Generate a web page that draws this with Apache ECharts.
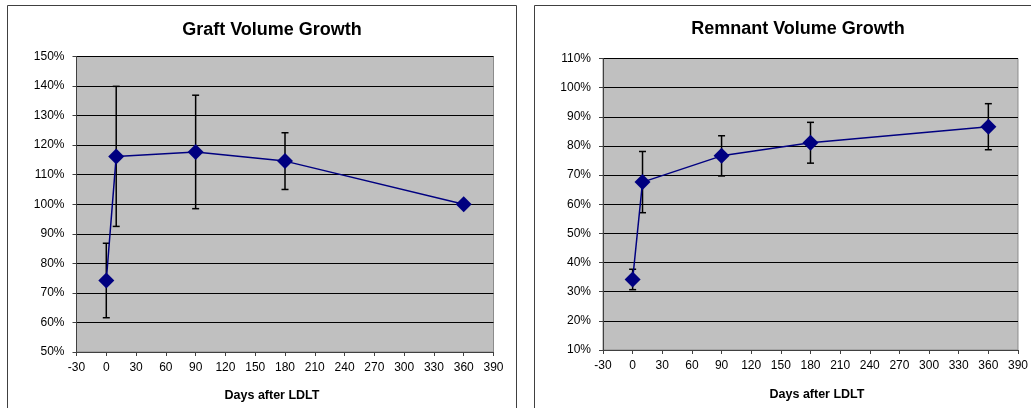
<!DOCTYPE html>
<html>
<head>
<meta charset="utf-8">
<title>Graft and Remnant Volume Growth</title>
<script src="https://cdn.jsdelivr.net/npm/echarts@6/dist/echarts.min.js"></script>
<style>
  html, body { margin: 0; padding: 0; background: #ffffff; }
  #chart { width: 1031px; height: 408px; }
</style>
</head>
<body>
<div id="chart"></div>
<script>
// Days after living donor liver transplantation (LDLT)
const days = [0, 10, 90, 180, 360];

// Graft volume, % of standard liver volume (mean and SD)
const graftMean = [74.2, 116.2, 117.7, 114.6, 100.0];
const graftSD   = [12.6, 23.7, 19.2, 9.6, null];

// Remnant liver volume in the donor, % of preoperative volume (mean and SD)
const remnantMean = [34.2, 67.6, 76.6, 81.1, 86.6];
const remnantSD   = [3.5, 10.5, 6.9, 7.0, 7.9];

// Axis tick settings
const xTicks = { min: -30, max: 390, interval: 30 };
const graftTicks = { min: 50, max: 150, interval: 10 };
const remnantTicks = { min: 10, max: 110, interval: 10 };

const FONT = 'Liberation Sans, Arial, sans-serif';
const NAVY = '#000080';

function errorRows(means, sds) {
  const rows = [];
  means.forEach((m, i) => {
    if (sds[i] != null) rows.push([days[i], m - sds[i], m + sds[i]]);
  });
  return rows;
}

function renderErrorBar(params, api) {
  const x = api.value(0);
  const top = api.coord([x, api.value(2)]);
  const bot = api.coord([x, api.value(1)]);
  const hw = 3.5;
  const style = { stroke: '#000000', lineWidth: 1.5, fill: null };
  return {
    type: 'group',
    children: [
      { type: 'line', shape: { x1: top[0], y1: top[1], x2: bot[0], y2: bot[1] }, style },
      { type: 'line', shape: { x1: top[0] - hw, y1: top[1], x2: top[0] + hw, y2: top[1] }, style },
      { type: 'line', shape: { x1: bot[0] - hw, y1: bot[1], x2: bot[0] + hw, y2: bot[1] }, style }
    ]
  };
}

function xAxisFor(gridIndex) {
  return {
    type: 'value', gridIndex,
    min: xTicks.min, max: xTicks.max, interval: xTicks.interval,
    axisLine: { show: true, onZero: false, lineStyle: { color: '#404040', width: 1 } },
    axisTick: { show: true, length: 4, lineStyle: { color: '#404040' } },
    axisLabel: { color: '#000', fontFamily: FONT, fontSize: 12, margin: 10 },
    splitLine: { show: false }
  };
}

function yAxisFor(gridIndex, ticks) {
  return {
    type: 'value', gridIndex,
    min: ticks.min, max: ticks.max, interval: ticks.interval,
    axisLine: { show: true, onZero: false, lineStyle: { color: '#404040', width: 1 } },
    axisTick: { show: true, length: 4, lineStyle: { color: '#404040' } },
    axisLabel: { color: '#000', fontFamily: FONT, fontSize: 12, margin: 12, formatter: '{value}%' },
    splitLine: { show: true, lineStyle: { color: '#000000', width: 1 } }
  };
}

function lineSeries(idx, means) {
  return {
    type: 'line', xAxisIndex: idx, yAxisIndex: idx, z: 5,
    data: days.map((d, i) => [d, means[i]]),
    symbol: 'diamond', symbolSize: 16,
    itemStyle: { color: NAVY },
    lineStyle: { color: NAVY, width: 1.5 },
    animation: false
  };
}

function errorSeries(idx, means, sds) {
  return {
    type: 'custom', xAxisIndex: idx, yAxisIndex: idx, z: 3,
    data: errorRows(means, sds),
    encode: { x: 0, y: [1, 2] },
    renderItem: renderErrorBar,
    animation: false
  };
}

const chart = echarts.init(document.getElementById('chart'), null, { renderer: 'canvas' });

chart.setOption({
  backgroundColor: '#ffffff',
  animation: false,
  title: [
    { text: 'Graft Volume Growth', left: 267, top: 16, textAlign: 'center',
      textStyle: { fontFamily: FONT, fontSize: 18, fontWeight: 'bold', color: '#000' } },
    { text: 'Remnant Volume Growth', left: 793, top: 15, textAlign: 'center',
      textStyle: { fontFamily: FONT, fontSize: 18, fontWeight: 'bold', color: '#000' } },
    { text: 'Days after LDLT', left: 267, top: 384, textAlign: 'center',
      textStyle: { fontFamily: FONT, fontSize: 12.5, fontWeight: 'bold', color: '#000' } },
    { text: 'Days after LDLT', left: 812, top: 383, textAlign: 'center',
      textStyle: { fontFamily: FONT, fontSize: 12.5, fontWeight: 'bold', color: '#000' } }
  ],
  graphic: [
    { type: 'rect', shape: { x: 7.5, y: 5.5, width: 509, height: 430 },
      style: { fill: null, stroke: '#404040', lineWidth: 1 }, silent: true },
    { type: 'rect', shape: { x: 534.5, y: 5.5, width: 530, height: 430 },
      style: { fill: null, stroke: '#404040', lineWidth: 1 }, silent: true }
  ],
  grid: [
    { left: 76.5, top: 56.5, width: 417, height: 295.5,
      show: true, backgroundColor: '#c0c0c0', borderColor: '#8c8c8c', borderWidth: 1 },
    { left: 603, top: 58.5, width: 417, height: 291.5,
      show: true, backgroundColor: '#c0c0c0', borderColor: '#8c8c8c', borderWidth: 1 }
  ],
  xAxis: [xAxisFor(0), xAxisFor(1)],
  yAxis: [yAxisFor(0, graftTicks), yAxisFor(1, remnantTicks)],
  series: [
    errorSeries(0, graftMean, graftSD),
    lineSeries(0, graftMean),
    errorSeries(1, remnantMean, remnantSD),
    lineSeries(1, remnantMean)
  ]
});
</script>
</body>
</html>
